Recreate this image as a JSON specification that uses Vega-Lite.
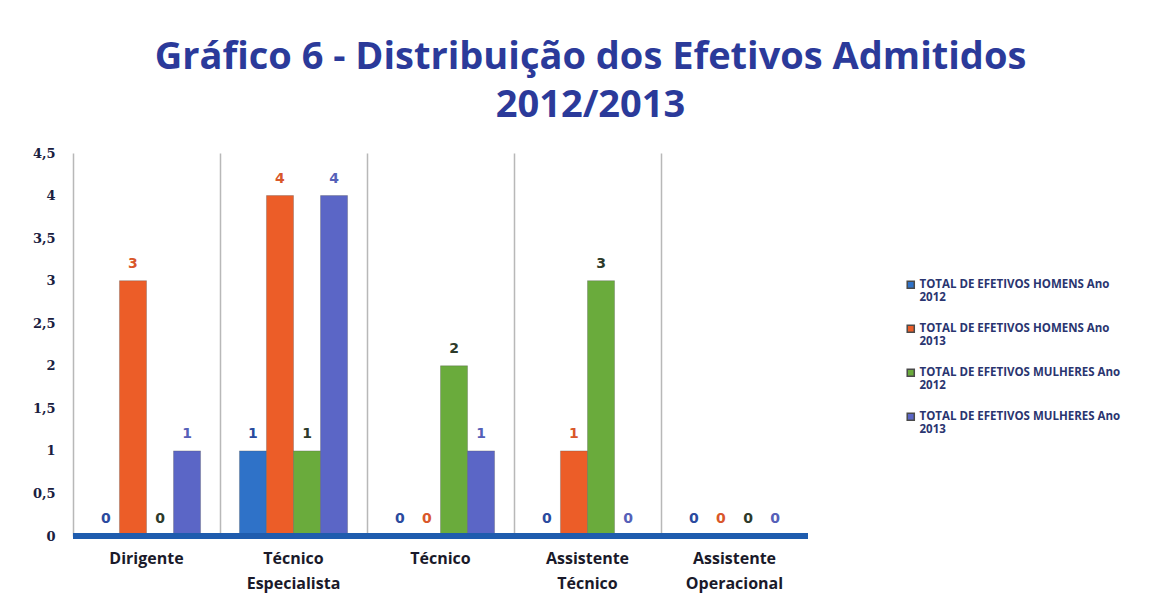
{
  "$schema": "https://vega.github.io/schema/vega-lite/v6.json",
  "width": 735,
  "height": 383,
  "autosize": {"type": "none"},
  "padding": {"left": 73, "top": 153, "right": 354, "bottom": 76},
  "background": "white",
  "title": {
    "text": ["Gráfico 6 - Distribuição dos Efetivos Admitidos", "2012/2013"],
    "font": "Open Sans",
    "fontSize": 38,
    "fontWeight": "bold",
    "color": "#2b3a9a",
    "lineHeight": 48,
    "anchor": "middle",
    "frame": "group",
    "dx": 150,
    "offset": 22
  },
  "data": {
    "values": [
      {"cat": "Dirigente", "serie": "TOTAL DE EFETIVOS HOMENS Ano 2012", "valor": 0},
      {"cat": "Dirigente", "serie": "TOTAL DE EFETIVOS HOMENS Ano 2013", "valor": 3},
      {"cat": "Dirigente", "serie": "TOTAL DE EFETIVOS MULHERES Ano 2012", "valor": 0},
      {"cat": "Dirigente", "serie": "TOTAL DE EFETIVOS MULHERES Ano 2013", "valor": 1},
      {"cat": "Técnico Especialista", "serie": "TOTAL DE EFETIVOS HOMENS Ano 2012", "valor": 1},
      {"cat": "Técnico Especialista", "serie": "TOTAL DE EFETIVOS HOMENS Ano 2013", "valor": 4},
      {"cat": "Técnico Especialista", "serie": "TOTAL DE EFETIVOS MULHERES Ano 2012", "valor": 1},
      {"cat": "Técnico Especialista", "serie": "TOTAL DE EFETIVOS MULHERES Ano 2013", "valor": 4},
      {"cat": "Técnico", "serie": "TOTAL DE EFETIVOS HOMENS Ano 2012", "valor": 0},
      {"cat": "Técnico", "serie": "TOTAL DE EFETIVOS HOMENS Ano 2013", "valor": 0},
      {"cat": "Técnico", "serie": "TOTAL DE EFETIVOS MULHERES Ano 2012", "valor": 2},
      {"cat": "Técnico", "serie": "TOTAL DE EFETIVOS MULHERES Ano 2013", "valor": 1},
      {"cat": "Assistente Técnico", "serie": "TOTAL DE EFETIVOS HOMENS Ano 2012", "valor": 0},
      {"cat": "Assistente Técnico", "serie": "TOTAL DE EFETIVOS HOMENS Ano 2013", "valor": 1},
      {"cat": "Assistente Técnico", "serie": "TOTAL DE EFETIVOS MULHERES Ano 2012", "valor": 3},
      {"cat": "Assistente Técnico", "serie": "TOTAL DE EFETIVOS MULHERES Ano 2013", "valor": 0},
      {"cat": "Assistente Operacional", "serie": "TOTAL DE EFETIVOS HOMENS Ano 2012", "valor": 0},
      {"cat": "Assistente Operacional", "serie": "TOTAL DE EFETIVOS HOMENS Ano 2013", "valor": 0},
      {"cat": "Assistente Operacional", "serie": "TOTAL DE EFETIVOS MULHERES Ano 2012", "valor": 0},
      {"cat": "Assistente Operacional", "serie": "TOTAL DE EFETIVOS MULHERES Ano 2013", "valor": 0}
    ]
  },
  "encoding": {
    "x": {
      "field": "cat",
      "type": "nominal",
      "sort": null,
      "scale": {"paddingInner": 0, "paddingOuter": 0},
      "axis": {
        "title": null,
        "labelAngle": 0,
        "bandPosition": 0,
        "grid": true,
        "gridColor": "#b8b8b8",
        "gridWidth": 1.5,
        "domain": false,
        "ticks": false,
        "labelExpr": "datum.label == 'Dirigente' ? 'Dirigente' : datum.label == 'Técnico' ? 'Técnico' : datum.label == 'Técnico Especialista' ? ['Técnico', 'Especialista'] : datum.label == 'Assistente Técnico' ? ['Assistente', 'Técnico'] : ['Assistente', 'Operacional']",
        "labelFont": "Open Sans",
        "labelFontSize": 16,
        "labelFontWeight": "bold",
        "labelColor": "#1a1a2a",
        "labelPadding": 14,
        "labelLineHeight": 25,
        "labelBaseline": "top"
      }
    },
    "xOffset": {
      "field": "serie",
      "type": "nominal",
      "sort": null,
      "scale": {"paddingInner": 0, "paddingOuter": 0.72}
    },
    "y": {
      "field": "valor",
      "type": "quantitative",
      "scale": {"domain": [0, 4.5], "nice": false},
      "axis": {
        "title": null,
        "values": [0, 0.5, 1, 1.5, 2, 2.5, 3, 3.5, 4, 4.5],
        "labelExpr": "replace(datum.label, '.', ',')",
        "format": ".1~f",
        "grid": false,
        "domain": false,
        "ticks": false,
        "labelFont": "DejaVu Serif",
        "labelFontSize": 13,
        "labelFontWeight": "bold",
        "labelColor": "#1a2040",
        "labelPadding": 18
      }
    }
  },
  "layer": [
    {
      "mark": {"type": "bar", "stroke": "#4a4a4a", "strokeWidth": 0.6, "strokeOpacity": 0.5},
      "encoding": {
        "color": {
          "field": "serie",
          "type": "nominal",
          "sort": null,
          "scale": {"range": ["#2f72c8", "#ec5d28", "#6aab3c", "#5b66c6"]},
          "legend": {
            "title": null,
            "orient": "none",
            "legendX": 832,
            "legendY": 126,
            "symbolType": "square",
            "symbolSize": 50,
            "labelFont": "Open Sans",
            "labelFontSize": 11.5,
            "labelFontWeight": "bold",
            "labelColor": "#2a3570",
            "labelLimit": 300,
            "labelLineHeight": 17,
            "rowPadding": 18,
            "labelOffset": 3,
            "labelExpr": "[slice(datum.label, 0, length(datum.label) - 5), slice(datum.label, length(datum.label) - 4)]"
          }
        }
      }
    },
    {
      "mark": {"type": "rule", "color": "#1f5cae", "strokeWidth": 5},
      "encoding": {"y": {"datum": 0}, "x": null, "xOffset": null}
    },
    {
      "mark": {"type": "text", "baseline": "bottom", "dy": -10, "font": "DejaVu Sans", "fontSize": 14, "fontWeight": "bold"},
      "encoding": {
        "text": {"field": "valor", "type": "quantitative"},
        "color": {
          "field": "serie",
          "type": "nominal",
          "sort": null,
          "scale": {"range": ["#2a4a9e", "#d9572a", "#2d3a2a", "#5560b8"]},
          "legend": null
        }
      }
    }
  ],
  "resolve": {"scale": {"color": "independent"}},
  "config": {"view": {"stroke": null}}
}
